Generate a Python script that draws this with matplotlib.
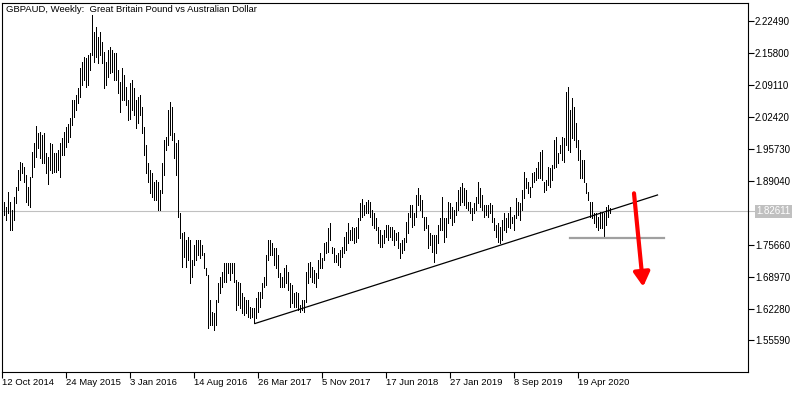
import numpy as np
import pandas as pd
import matplotlib
matplotlib.use("Agg")
import matplotlib.pyplot as plt

# GBPAUD weekly bars, first bar = week of 19 Oct 2014 (high / low)
first_week = "2014-10-19"

highs = [
    1.8456, 1.8352, 1.8665, 1.8456, 1.8289, 1.8561, 1.8770, 1.9126, 1.9293, 1.9272,
    1.9189, 1.9021, 1.8770, 1.8979, 1.9502, 1.9690, 2.0045, 1.9899, 1.9920, 1.9858,
    1.9899, 1.9481, 1.9398, 1.9690, 1.9669, 1.9481, 1.9481, 1.9544, 1.9690, 1.9795,
    1.9920, 2.0024, 2.0087, 2.0212, 2.0590, 2.0590, 2.0695, 2.0841, 2.1260, 2.1385,
    2.1490, 2.1469, 2.1532, 2.1573, 2.2368, 2.2012, 2.2117, 2.1908, 2.2012, 2.1803,
    2.1594, 2.1385, 2.1636, 2.1699, 2.1636, 2.1573, 2.1573, 2.1218, 2.0967, 2.1260,
    2.1113, 2.0862, 2.0590, 2.0946, 2.1009, 2.0841, 2.0590, 2.0653, 2.0695, 2.0443,
    2.0024, 1.9648, 1.9272, 1.9126, 1.9063, 1.8874, 1.8916, 1.8874, 1.8707, 1.9272,
    1.9753, 1.9816, 2.0380, 2.0548, 2.0443, 1.9899, 1.9690, 1.9753, 1.8226, 1.7807,
    1.7828, 1.7661, 1.7724, 1.7661, 1.7243, 1.7557, 1.7661, 1.7661, 1.7661, 1.7557,
    1.7389, 1.7075, 1.6929, 1.6406, 1.6155, 1.6134, 1.6406, 1.6762, 1.6887, 1.6992,
    1.7180, 1.7180, 1.7180, 1.7180, 1.7180, 1.7180, 1.6824, 1.6782, 1.6762, 1.6552,
    1.6469, 1.6406, 1.6406, 1.6260, 1.6239, 1.6239, 1.6448, 1.6573, 1.6573, 1.6762,
    1.6887, 1.7347, 1.7661, 1.7661, 1.7598, 1.7494, 1.7494, 1.7347, 1.6971, 1.6887,
    1.7075, 1.7138, 1.6992, 1.6761, 1.6720, 1.6552, 1.6573, 1.6552, 1.6301, 1.6406,
    1.6406, 1.6992, 1.7180, 1.7201, 1.7096, 1.7034, 1.6971, 1.7243, 1.7389, 1.7285,
    1.7598, 1.7619, 1.7912, 1.8017, 1.7515, 1.7494, 1.7347, 1.7389, 1.7452, 1.7515,
    1.7724, 1.7828, 1.8017, 1.7870, 1.7933, 1.7912, 1.7933, 1.8121, 1.8435, 1.8519,
    1.8393, 1.8456, 1.8498, 1.8456, 1.8289, 1.8226, 1.8121, 1.7933, 1.7870, 1.7766,
    1.7870, 1.7975, 1.7975, 1.7933, 1.7933, 1.7870, 1.7807, 1.7828, 1.7598, 1.7661,
    1.7703, 1.8038, 1.8226, 1.8393, 1.8393, 1.8226, 1.8602, 1.8749, 1.8602, 1.8498,
    1.8142, 1.8142, 1.7975, 1.7807, 1.7766, 1.7766, 1.7766, 1.7975, 1.8121, 1.8561,
    1.8121, 1.8121, 1.8456, 1.8435, 1.8352, 1.8289, 1.8456, 1.8707, 1.8770, 1.8853,
    1.8749, 1.8707, 1.8456, 1.8456, 1.8331, 1.8435, 1.8561, 1.8874, 1.8749, 1.8602,
    1.8393, 1.8393, 1.8393, 1.8435, 1.8393, 1.8121, 1.7975, 1.8017, 1.7933, 1.8080,
    1.8226, 1.8121, 1.8226, 1.8352, 1.8142, 1.8184, 1.8540, 1.8456, 1.8435, 1.8707,
    1.9084, 1.8958, 1.8874, 1.8770, 1.9063, 1.9084, 1.9168, 1.9293, 1.9502, 1.9544,
    1.8874, 1.8916, 1.9189, 1.9168, 1.9231, 1.9753, 1.9816, 1.9481, 1.9648, 1.9816,
    1.9795, 2.0757, 2.0862, 2.0380, 2.0632, 2.0443, 2.0108, 1.9753, 1.9544, 1.9335,
    1.9335, 1.8853, 1.8665, 1.8456, 1.8456, 1.8226, 1.8226, 1.8142, 1.8247, 1.8226,
    1.8226, 1.8352, 1.8393, 1.8331,
]

lows = [
    1.8184, 1.8080, 1.8226, 1.7870, 1.7870, 1.8080, 1.8435, 1.8707, 1.8916, 1.9063,
    1.8874, 1.8456, 1.8393, 1.8352, 1.8979, 1.9189, 1.9398, 1.9586, 1.9377, 1.9272,
    1.9272, 1.9063, 1.8832, 1.9126, 1.9063, 1.9084, 1.9084, 1.9126, 1.8979, 1.9440,
    1.9440, 1.9607, 1.9711, 1.9816, 2.0066, 2.0234, 2.0380, 2.0527, 2.0653, 2.0904,
    2.1009, 2.0862, 2.0904, 2.1218, 2.1532, 2.1385, 2.1490, 2.1364, 2.1532, 2.1364,
    2.0841, 2.0904, 2.1071, 2.1155, 2.1176, 2.1009, 2.1009, 2.0736, 2.0339, 2.0590,
    2.0590, 2.0485, 2.0171, 2.0192, 2.0380, 2.0276, 2.0004, 2.0109, 2.0276, 1.9899,
    1.9440, 1.9063, 1.8874, 1.8644, 1.8561, 1.8498, 1.8498, 1.8289, 1.8289, 1.8644,
    1.9021, 1.9544, 1.9648, 1.9858, 1.9753, 1.9377, 1.9021, 1.8142, 1.7703, 1.7096,
    1.7305, 1.7096, 1.7243, 1.6762, 1.6887, 1.7138, 1.7243, 1.7347, 1.7285, 1.7347,
    1.7075, 1.6929, 1.5820, 1.5883, 1.5883, 1.5778, 1.5883, 1.6364, 1.6552, 1.6678,
    1.6782, 1.6782, 1.6971, 1.6824, 1.6971, 1.6782, 1.6197, 1.6301, 1.6239, 1.6134,
    1.6092, 1.6134, 1.6050, 1.6029, 1.6050, 1.5925, 1.6029, 1.6155, 1.6260, 1.6448,
    1.6678, 1.6720, 1.7243, 1.7347, 1.7347, 1.7138, 1.7075, 1.6887, 1.6678, 1.6678,
    1.6678, 1.6762, 1.6615, 1.6260, 1.6343, 1.6260, 1.6260, 1.6197, 1.6155, 1.6197,
    1.6155, 1.6364, 1.6762, 1.6887, 1.6782, 1.6762, 1.6678, 1.6866, 1.7075, 1.7075,
    1.7243, 1.7389, 1.7410, 1.7661, 1.7389, 1.7201, 1.7201, 1.7138, 1.7096, 1.7305,
    1.7389, 1.7452, 1.7598, 1.7661, 1.7661, 1.7598, 1.7619, 1.7703, 1.8080, 1.8142,
    1.8184, 1.8226, 1.8226, 1.8142, 1.7975, 1.7912, 1.7870, 1.7598, 1.7515, 1.7515,
    1.7598, 1.7724, 1.7661, 1.7724, 1.7661, 1.7556, 1.7661, 1.7494, 1.7285, 1.7389,
    1.7452, 1.7619, 1.7807, 1.8142, 1.7933, 1.7975, 1.8142, 1.8393, 1.8289, 1.8142,
    1.7870, 1.7912, 1.7494, 1.7556, 1.7410, 1.7201, 1.7389, 1.7598, 1.7870, 1.7870,
    1.7619, 1.7724, 1.8017, 1.8121, 1.7975, 1.8038, 1.8184, 1.8289, 1.8393, 1.8456,
    1.8393, 1.8331, 1.8289, 1.8226, 1.8080, 1.8226, 1.8289, 1.8435, 1.8352, 1.8289,
    1.8142, 1.8184, 1.8142, 1.8226, 1.8038, 1.7870, 1.7724, 1.7619, 1.7598, 1.7661,
    1.7870, 1.7828, 1.7933, 1.7912, 1.8017, 1.7870, 1.8121, 1.8184, 1.8080, 1.8289,
    1.8540, 1.8749, 1.8644, 1.8561, 1.8770, 1.8874, 1.8916, 1.8958, 1.8958, 1.8916,
    1.8665, 1.8707, 1.8812, 1.8770, 1.8916, 1.9168, 1.9189, 1.9272, 1.9481, 1.9335,
    1.9293, 1.9648, 1.9544, 1.9502, 1.9795, 1.9753, 1.9607, 1.9335, 1.8958, 1.8958,
    1.8874, 1.8644, 1.8498, 1.8142, 1.8121, 1.8017, 1.7933, 1.7870, 1.7912, 1.7912,
    1.7703, 1.7975, 1.8142, 1.8226,
]

last_price = 1.82611
price_ticks = [2.22490, 2.15800, 2.09110, 2.02420, 1.95730, 1.89040,
               1.75660, 1.68970, 1.62280, 1.55590]
date_ticks = ["2014-10-12", "2015-05-24", "2016-01-03", "2016-08-14", "2017-03-26",
              "2017-11-05", "2018-06-17", "2019-01-27", "2019-09-08", "2020-04-19"]

# drawn objects (bar index, price)
trend_x = [125.5, 326.75]
trend_y = [1.5914, 1.8603]
support_x = [283, 330]
support_y = 1.7709
arrow_from = (315.0, 1.8638)
arrow_to = (319.6, 1.6684)

plt.rcParams['font.family'] = ['Liberation Sans', 'DejaVu Sans']

W, H = 805, 393
fig = plt.figure(figsize=(W / 100, H / 100), dpi=100)
left_px, right_px, top_px, bottom_px = 2.0, 748, 3, 372
ax = fig.add_axes([left_px / W, 1 - bottom_px / H,
                   (right_px - left_px) / W, (bottom_px - top_px) / H])

x = np.arange(len(highs))
ax.vlines(x, lows, highs, color='black', lw=0.72, antialiased=False)

ax.axhline(last_price, color='#c0c0c0', lw=0.8, zorder=0)
ax.plot(trend_x, trend_y, color='black', lw=0.9)
ax.plot(support_x, [support_y, support_y], color='#a0a0a0', lw=1.6)
ax.annotate('', xy=arrow_to, xytext=arrow_from,
            arrowprops=dict(arrowstyle='-|>,head_length=0.7,head_width=0.4',
                            color='#ff0000', lw=3, mutation_scale=12,
                            shrinkA=0, shrinkB=0))

# axis limits: 2 px per bar, bar 0 at pixel 4
ax.set_xlim((left_px - 4) / 2, (right_px - 4) / 2)
ax.set_ylim(2.2682 - 0.002092 * bottom_px, 2.2682 - 0.002092 * top_px)

start = pd.Timestamp(first_week)
tick_pos = [(pd.Timestamp(d) - start).days / 7 for d in date_ticks]
tick_lab = [pd.Timestamp(d).strftime('%d %b %Y').lstrip('0') for d in date_ticks]
ax.set_xticks(tick_pos)
ax.set_xticklabels(tick_lab, ha='left', fontsize=6.8)
ax.tick_params(axis='x', length=4, width=0.8, pad=0.5, direction='out')

ax.yaxis.tick_right()
ax.set_yticks(price_ticks)
ax.set_yticklabels(['%.5f' % p for p in price_ticks], fontsize=7)
ax.tick_params(axis='y', length=4, width=0.8, pad=1, direction='out')

for s in ax.spines.values():
    s.set_color('black')
    s.set_linewidth(0.8)

# last price marker on the price scale
span = right_px - left_px
ax.plot([1, 1 + 7 / span], [last_price, last_price], color='#c0c0c0', lw=0.8,
        transform=ax.get_yaxis_transform(), clip_on=False)
ax.text(1 + 8 / span, last_price, '%.5f' % last_price,
        transform=ax.get_yaxis_transform(), ha='left', va='center',
        fontsize=7, color='white', clip_on=False,
        bbox=dict(boxstyle='square,pad=0.15', fc='#c0c0c0', ec='none'))

fig.text(6 / W, 1 - 9 / H, 'GBPAUD, Weekly:  Great Britain Pound vs Australian Dollar',
         fontsize=6.8, va='center', ha='left')

fig.savefig('out.png', dpi=100)
